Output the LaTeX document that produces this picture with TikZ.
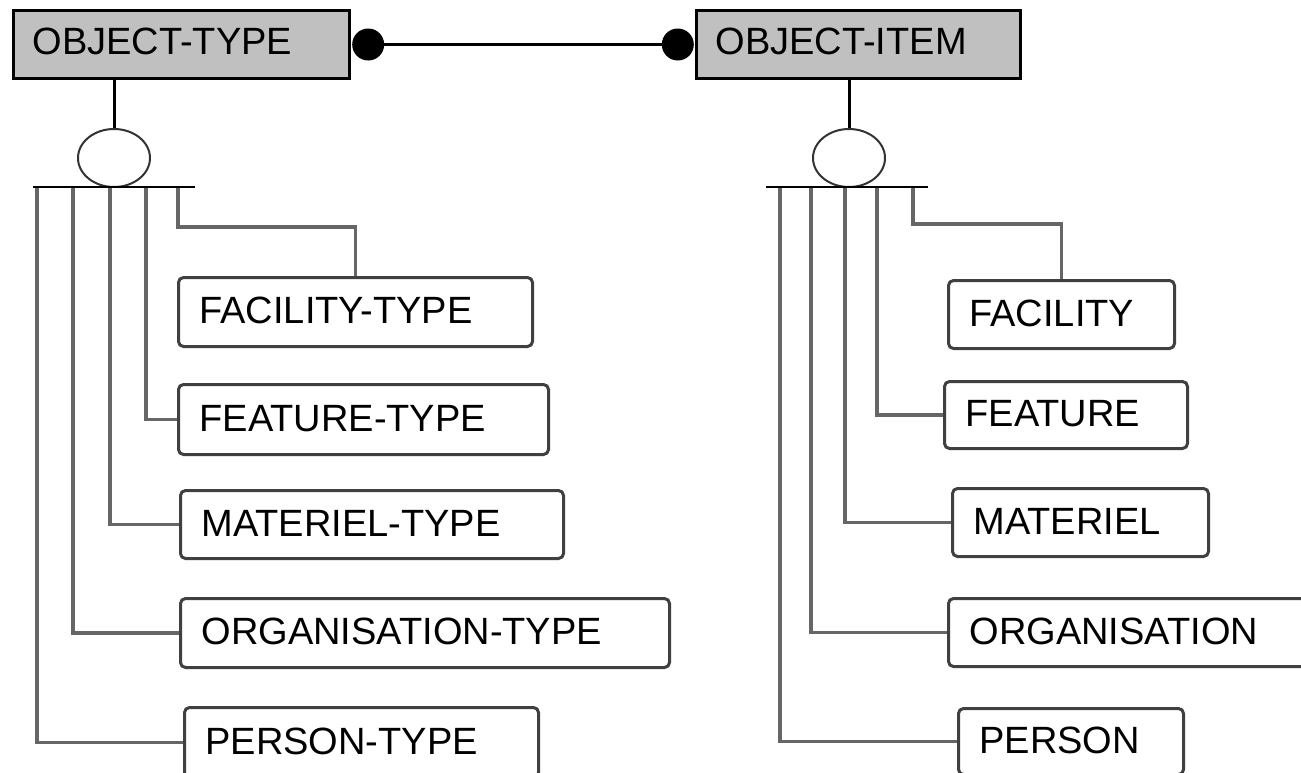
\documentclass[tikz,border=0pt]{standalone}
\usepackage{fontspec}
\setmainfont{Liberation Sans}
\usetikzlibrary{shapes.geometric,positioning}
\definecolor{objgray}{RGB}{192,192,192}
\tikzset{
  entity/.style={draw=black, line width=3pt, fill=objgray, anchor=north west,
    minimum height=68pt, inner xsep=19pt, inner ysep=0pt, align=left,
    text height=27pt, text depth=8pt, font=\fontsize{38}{41}\selectfont},
  subtype/.style={draw=black!75, line width=3pt, rounded corners=5pt, fill=white,
    anchor=north west, inner xsep=21pt, inner ysep=0pt, align=left,
    text height=27pt, text depth=4pt, font=\fontsize{38}{41}\selectfont},
  dot/.style={circle, fill=black, minimum size=32pt, inner sep=0pt},
  disc/.style={ellipse, draw=black!80, line width=2pt, fill=white,
    minimum width=72pt, minimum height=58pt, inner sep=0pt},
  link/.style={line width=3pt},
  tap/.style={line width=3.5pt, draw=black!60}
}

\begin{document}
\begin{tikzpicture}[x=1pt,y=-1pt]
\useasboundingbox (0,0) rectangle (1301,772);

% the two entities
\node[entity, text width=298pt] (otype) at (12,9) {OBJECT-TYPE};
\node[entity, text width=286pt] (oitem) at (695,9) {OBJECT-ITEM};

\node[dot, right=1pt of otype.east] (ldot) {};
\node[dot, left=1pt of oitem.west] (rdot) {};
\draw[link] (ldot) -- (rdot);

% subtypes of OBJECT-TYPE
\node[subtype, text width=312pt, minimum height=69pt] (ftype) at (177,276) {FACILITY-TYPE};
\node[subtype, text width=328pt, minimum height=70pt] (fetype) at (177,383) {FEATURE-TYPE};
\node[subtype, text width=341pt, minimum height=68pt] (mtype) at (179,489) {MATERIEL-TYPE};
\node[subtype, text width=447pt, minimum height=69pt] (orgtype) at (179,597) {ORGANISATION-TYPE};
\node[subtype, text width=312pt, minimum height=70pt] (ptype) at (183,706) {PERSON-TYPE};

% subtypes of OBJECT-ITEM
\node[subtype, text width=184pt, minimum height=68pt] (ofac) at (947,279) {FACILITY};
\node[subtype, text width=201pt, minimum height=67pt] (ofeat) at (943,380) {FEATURE};
\node[subtype, text width=214pt, minimum height=68pt] (omat) at (951,487) {MATERIEL};
\node[subtype, text width=358pt, minimum height=68pt] (oorg) at (947,597) {ORGANISATION};
\node[subtype, text width=183pt, minimum height=66pt] (opers) at (957,707) {PERSON};

% left split
\foreach \x/\n [count=\i] in {37/ptype,73/orgtype,110/mtype,146/fetype}{
  \coordinate (lt\i) at (\x,187);
  \draw[tap] (lt\i) |- (\n.west);
}
\coordinate (lt5) at (178,187);
\draw[tap] (lt5) -- ++(0,40) -| (ftype.north);

\node[disc] (lsplit) at (114,158) {};
\coordinate (lbarw) at (33,187);
\coordinate (lbare) at (195,187);
\draw[link, line width=2.5pt] (lbarw) -- (lbare);
\draw[link] (lsplit.north |- otype.south) -- (lsplit.north);

% right split
\foreach \x/\n [count=\i] in {780/opers,811/oorg,845/omat,877/ofeat}{
  \coordinate (rt\i) at (\x,187);
  \draw[tap] (rt\i) |- (\n.west);
}
\coordinate (rt5) at (913,187);
\draw[tap] (rt5) -- ++(0,37) -| (ofac.north);

\node[disc] (rsplit) at (849,158) {};
\coordinate (rbarw) at (766,187);
\coordinate (rbare) at (928,187);
\draw[link, line width=2.5pt] (rbarw) -- (rbare);
\draw[link] (rsplit.north |- oitem.south) -- (rsplit.north);
%
\end{tikzpicture}
\end{document}
